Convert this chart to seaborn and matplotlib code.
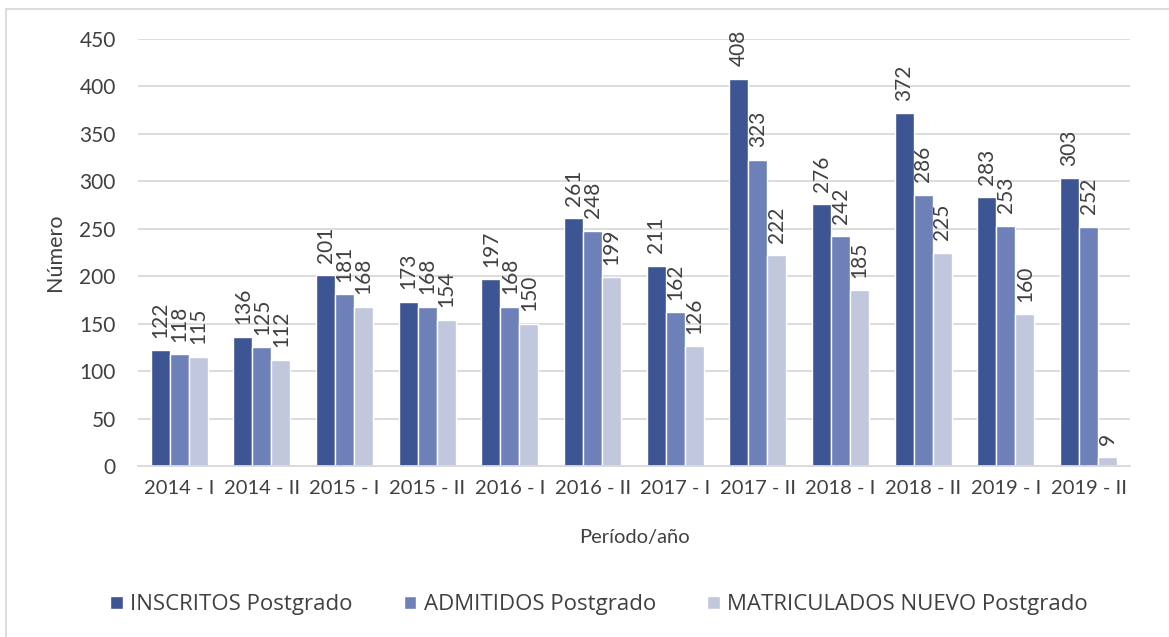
import numpy as np
import pandas as pd
import matplotlib
matplotlib.use("Agg")
import matplotlib.pyplot as plt
import seaborn as sns
from matplotlib.patches import Rectangle

# data
periodos = ['2014 - I', '2014 - II', '2015 - I', '2015 - II', '2016 - I', '2016 - II',
            '2017 - I', '2017 - II', '2018 - I', '2018 - II', '2019 - I', '2019 - II']
inscritos = [122, 136, 201, 173, 197, 261, 211, 408, 276, 372, 283, 303]
admitidos = [118, 125, 181, 168, 168, 248, 162, 323, 242, 286, 253, 252]
matriculados = [115, 112, 168, 154, 150, 199, 126, 222, 185, 225, 160, 9]
series = ['INSCRITOS Postgrado', 'ADMITIDOS Postgrado', 'MATRICULADOS NUEVO Postgrado']
colores = ['#3d5592', '#6e80b8', '#c1c7dc']

df = pd.DataFrame({
    'Periodo': periodos * 3,
    'Serie': [series[0]] * 12 + [series[1]] * 12 + [series[2]] * 12,
    'Valor': inscritos + admitidos + matriculados,
})

sns.set_style('white')
plt.rcParams['font.family'] = ['Lato', 'DejaVu Sans']
txt = '#404040'

fig = plt.figure(figsize=(11.69, 6.37), dpi=100)
ax = fig.add_axes([0.118, 0.2684, 0.8486, 0.6704])

sns.barplot(data=df, x='Periodo', y='Valor', hue='Serie', palette=colores,
            width=0.69, gap=0, ax=ax, legend=True, saturation=1)

for cont in ax.containers:
    ax.bar_label(cont, rotation=90, padding=9, fontsize=15, color=txt)

ax.set_ylim(0, 450)
ax.set_yticks(range(0, 451, 50))
ax.yaxis.grid(True, color='#d9d9d9', linewidth=1.3)
ax.set_axisbelow(True)
for s in ['top', 'right', 'left']:
    ax.spines[s].set_visible(False)
ax.spines['bottom'].set_color('#d9d9d9')
ax.spines['bottom'].set_linewidth(1.3)
ax.tick_params(axis='both', length=0, labelcolor=txt)
ax.tick_params(axis='y', pad=16, labelsize=15)
ax.tick_params(axis='x', pad=10, labelsize=14.5)
ax.set_xlabel('Período/año', fontsize=14.5, color=txt, labelpad=23)
ax.set_ylabel('Número', fontsize=15.5, color=txt, labelpad=10)

ax.legend(loc='center', bbox_to_anchor=(0.465, -0.325), ncol=3, frameon=False,
          handlelength=0.55, handleheight=0.55, handletextpad=0.35,
          columnspacing=2.3, labelcolor=txt,
          prop={'family': ['Open Sans', 'DejaVu Sans'], 'size': 16})

# outer frame of the chart area (right and bottom edges fall outside the image)
fig.patches.append(Rectangle((0.0055, -0.02), 1.0, 1.006, transform=fig.transFigure,
                             fill=False, edgecolor='#d9d9d9', linewidth=1.3))

fig.savefig('out.png', dpi=100)
